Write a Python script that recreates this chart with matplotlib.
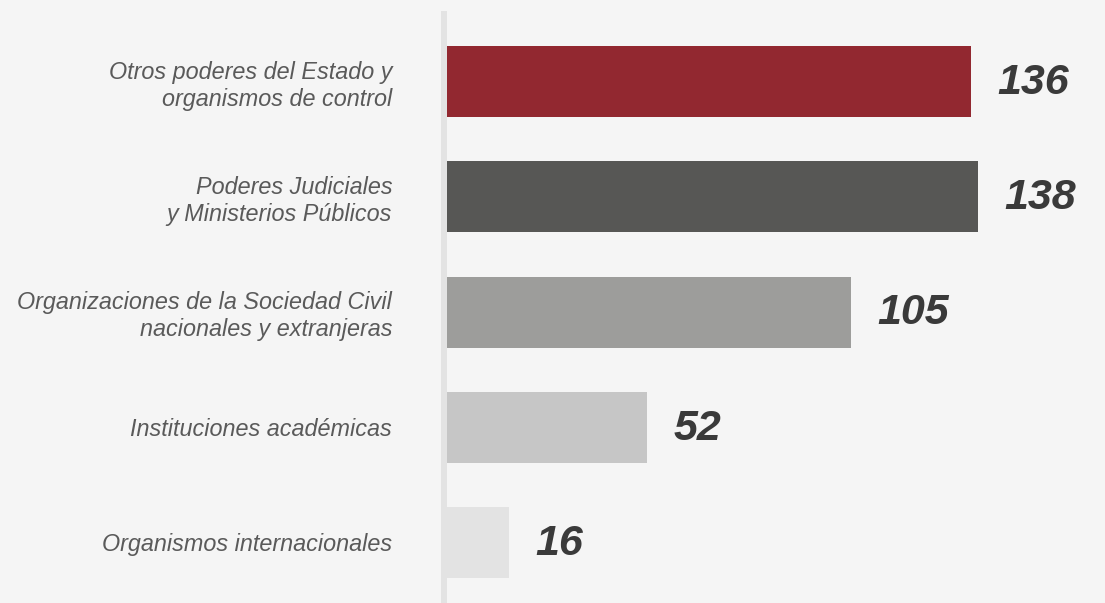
import matplotlib
matplotlib.use("Agg")
import matplotlib.pyplot as plt
from matplotlib.lines import Line2D

categorias = [
    "Otros poderes del Estado y\norganismos de control",
    "Poderes Judiciales\ny Ministerios Públicos",
    "Organizaciones de la Sociedad Civil\nnacionales y extranjeras",
    "Instituciones académicas",
    "Organismos internacionales",
]
valores = [136, 138, 105, 52, 16]
colores = ["#922830", "#575755", "#9d9d9b", "#c6c6c6", "#e3e3e3"]

bg = "#f5f5f5"
fig = plt.figure(figsize=(11.05, 6.03), dpi=100, facecolor=bg)
# ejes: empiezan donde arrancan las barras (x=447px)
ax = fig.add_axes([447 / 1105, 0, 1 - 447 / 1105, 1])
ax.set_facecolor(bg)

pos = list(range(len(valores)))
ax.barh(pos, valores, height=71 / 115.25, color=colores, zorder=2)

ax.set_xlim(0, (1105 - 447) / 3.85)
ax.set_ylim((603 - 81.5) / 115.25, -81.5 / 115.25)

for s in ax.spines.values():
    s.set_visible(False)
ax.set_xticks([])
ax.set_yticks(pos)
ax.set_yticklabels(categorias, fontfamily="Liberation Sans", fontstyle="italic",
                   fontsize=16.8, color="#5a5a5a", linespacing=1.2)
ax.tick_params(axis="y", length=0, pad=39.5)

# linea vertical gris
fig.add_artist(Line2D([444 / 1105, 444 / 1105], [0, 1 - 14 / 603],
                      transform=fig.transFigure, color="#e3e3e3", lw=4.3, zorder=1))

for i, v in enumerate(valores):
    ax.annotate(str(v), (v, i), xytext=(19, -1), textcoords="offset points",
                ha="left", va="center", fontfamily="Liberation Sans",
                fontweight="bold", fontstyle="italic", fontsize=31, color="#3a3a3a")

fig.savefig("out.png", dpi=100, facecolor=bg)
